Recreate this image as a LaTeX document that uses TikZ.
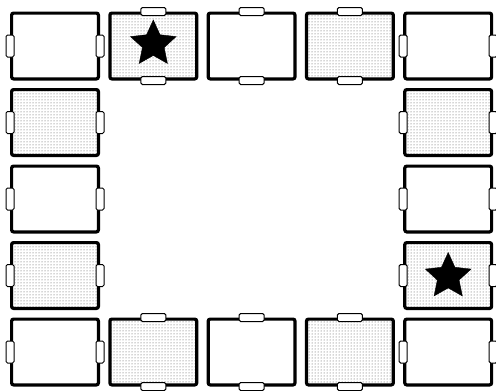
\documentclass[tikz,border=0pt]{standalone}
\usetikzlibrary{shapes.geometric, patterns, positioning}

\begin{document}
\begin{tikzpicture}[x=1pt, y=-1pt,
		room/.style={rectangle, draw=black, line width=3.2pt, rounded corners=2pt, inner sep=0pt, minimum width=86.8pt, minimum height=65.8pt},
		shaded/.style={room, pattern=dots, pattern color=black!70},
		vdoor/.style={rectangle, draw=black, fill=white, line width=1pt, rounded corners=1.5pt, minimum width=8pt, minimum height=22pt, inner sep=0pt},
		hdoor/.style={vdoor, minimum width=25pt, minimum height=8pt},
		marker/.style={star, star points=5, star point ratio=2.1, fill=black, draw=black, minimum size=48pt, inner sep=0pt}
		]
		\useasboundingbox (0,0) rectangle (496,391);
		% top row
		\node[room] (r11) at (55,46) {};
		\node[shaded, right=8.3pt of r11] (r12) {};
		\node[room, right=8.3pt of r12] (r13) {};
		\node[shaded, right=8.3pt of r13] (r14) {};
		\node[room, right=8.3pt of r14] (r15) {};
		% left column
		\node[shaded, below=7.5pt of r11] (r21) {};
		\node[room, below=7.5pt of r21] (r31) {};
		\node[shaded, below=7.5pt of r31] (r41) {};
		% right column
		\node[shaded, below=7.5pt of r15] (r25) {};
		\node[room, below=7.5pt of r25] (r35) {};
		\node[shaded, below=7.5pt of r35] (r45) {};
		% bottom row
		\node[room, below=7.5pt of r41] (r51) {};
		\node[shaded, right=8.3pt of r51] (r52) {};
		\node[room, right=8.3pt of r52] (r53) {};
		\node[shaded, right=8.3pt of r53] (r54) {};
		\node[room, right=8.3pt of r54] (r55) {};
		
		% doors
		\foreach \r in {11,15,21,25,31,35,41,45,51,55} {
			\node[vdoor] (dw\r) at (r\r.west) {};
			\node[vdoor] (de\r) at (r\r.east) {};
		}
		\foreach \r in {12,13,14,52,53,54} {
			\node[hdoor] (dn\r) at (r\r.north) {};
			\node[hdoor] (ds\r) at (r\r.south) {};
		}
		
		% stars
		\node[marker] (star1) at ([yshift=2pt]r12) {};
		\node[marker] (star2) at ([yshift=-1pt]r45) {};
		
	\end{tikzpicture}
\end{document}
